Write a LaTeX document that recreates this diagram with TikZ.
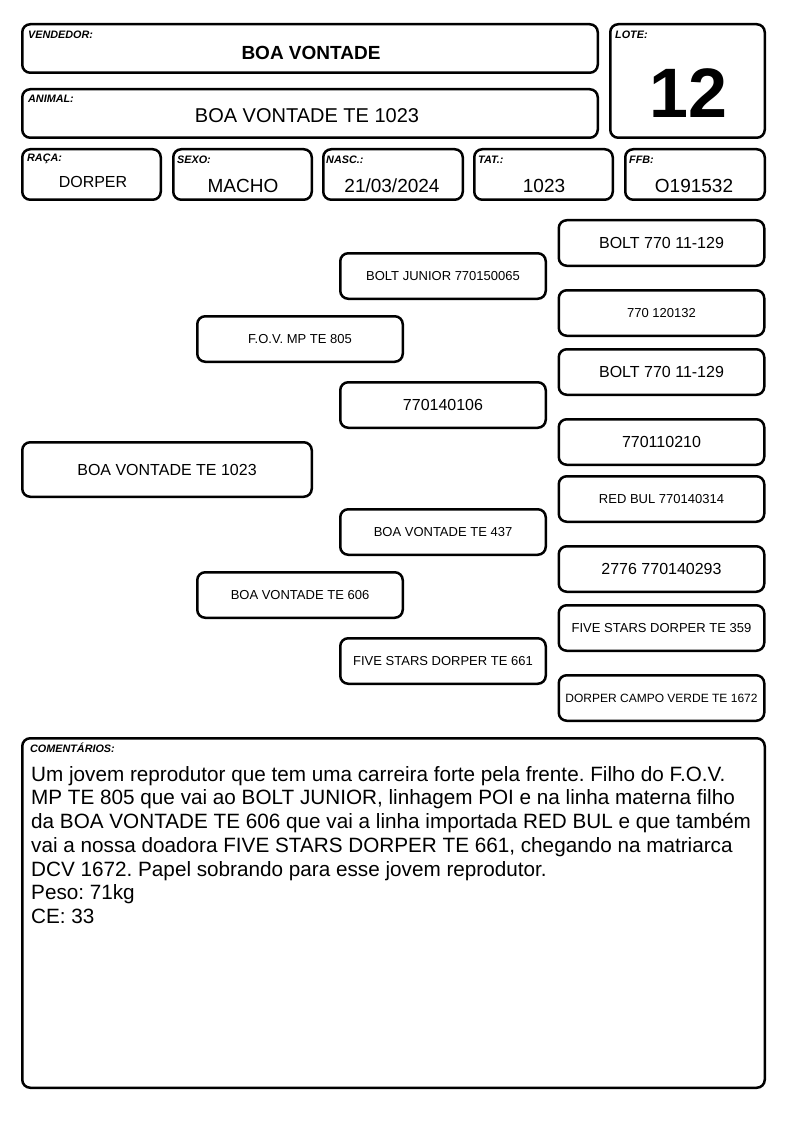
\documentclass[tikz,border=0pt]{standalone}
\usepackage{fontspec}
\setmainfont{Liberation Sans}
\usepackage{tikz}
\usetikzlibrary{calc}
\frenchspacing

\tikzset{
    card/.style={draw, line width=2.5pt, rounded corners=8pt, inner sep=0pt},
    fieldlabel/.style={anchor=west, inner sep=0pt, font=\bfseries\itshape\fontsize{10.8}{12}\selectfont},
    fieldvalue/.style={inner sep=0pt},
    gensmall/.style={card, minimum width=205.5pt, minimum height=45.5pt, font=\fontsize{13}{15}\selectfont},
    genbig/.style={card, minimum width=205.5pt, minimum height=45.5pt, font=\fontsize{16}{18}\selectfont},
}

\begin{document}
\begin{tikzpicture}[x=1pt, y=-1pt]
    \useasboundingbox (0,0) rectangle (794,1123);

    % Header
    \node[card, minimum width=575.5pt, minimum height=48.5pt] (vendbox) at (310,48.5) {};
    \node[fieldlabel] (vendlbl) at (28,35) {VENDEDOR:};
    \node[fieldvalue, font=\bfseries\fontsize{19}{21}\selectfont] (vend) at (311,53) {BOA VONTADE};

    \node[card, minimum width=575.5pt, minimum height=48.5pt] (animbox) at (310,113.5) {};
    \node[fieldlabel] (animlbl) at (28,99) {ANIMAL:};
    \node[fieldvalue, font=\fontsize{20}{22}\selectfont] (anim) at (307,116) {BOA VONTADE TE 1023};

    \node[card, minimum width=154.5pt, minimum height=113.5pt] (lotebox) at (687.5,81) {};
    \node[fieldlabel] (lotelbl) at (615,35) {LOTE:};
    \node[fieldvalue, font=\bfseries\fontsize{70}{72}\selectfont] (lote) at (688,93) {12};

    % Data row
    \node[card, minimum width=138.5pt, minimum height=50.5pt] (racabox) at (91.5,174.5) {};
    \node[fieldlabel] (racalbl) at (27,159) {RAÇA:};
    \node[fieldvalue, font=\fontsize{16}{18}\selectfont] (raca) at (93,182) {DORPER};

    \node[card, minimum width=138.5pt, minimum height=50.5pt] (sexobox) at (242.5,174.5) {};
    \node[fieldlabel] (sexolbl) at (177,160) {SEXO:};
    \node[fieldvalue, font=\fontsize{19}{21}\selectfont] (sexo) at (243,186) {MACHO};

    \node[card, minimum width=139.5pt, minimum height=50.5pt] (nascbox) at (393,174.5) {};
    \node[fieldlabel] (nasclbl) at (326,160) {NASC.:};
    \node[fieldvalue, font=\fontsize{19}{21}\selectfont] (nasc) at (392,186) {21/03/2024};

    \node[card, minimum width=138.5pt, minimum height=50.5pt] (tatbox) at (543.5,174.5) {};
    \node[fieldlabel] (tatlbl) at (478,160) {TAT.:};
    \node[fieldvalue, font=\fontsize{19}{21}\selectfont] (tat) at (544,186) {1023};

    \node[card, minimum width=139.5pt, minimum height=50.5pt] (ffbbox) at (695,174.5) {};
    \node[fieldlabel] (ffblbl) at (629,160) {FFB:};
    \node[fieldvalue, font=\fontsize{19}{21}\selectfont] (ffb) at (694,186) {O191532};

    % Pedigree - animal
    \node[card, minimum width=289.5pt, minimum height=54.5pt, font=\fontsize{16}{18}\selectfont] (self) at (167,469.5) {BOA VONTADE TE 1023};

    % Pedigree - parents
    \node[gensmall] (sire) at (300,339) {F.O.V. MP TE 805};
    \node[gensmall] (dam) at (300,595) {BOA VONTADE TE 606};

    % Pedigree - grandparents
    \node[gensmall] (ss) at (443,276) {BOLT JUNIOR 770150065};
    \node[genbig] (sd) at (443,405) {770140106};
    \node[gensmall] (ds) at (443,532) {BOA VONTADE TE 437};
    \node[gensmall] (dd) at (443,661) {FIVE STARS DORPER TE 661};

    % Pedigree - great-grandparents
    \node[genbig] (sss) at (661.5,243) {BOLT 770 11-129};
    \node[gensmall] (ssd) at (661.5,313) {770 120132};
    \node[genbig] (sds) at (661.5,372) {BOLT 770 11-129};
    \node[genbig] (sdd) at (661.5,442) {770110210};
    \node[gensmall] (dss) at (661.5,499) {RED BUL 770140314};
    \node[genbig] (dsd) at (661.5,569) {2776 770140293};
    \node[gensmall] (dds) at (661.5,628) {FIVE STARS DORPER TE 359};
    \node[gensmall, font=\fontsize{12}{14}\selectfont] (ddd) at (661.5,698) {DORPER CAMPO VERDE TE 1672};

    % Comments
    \node[card, minimum width=742.5pt, minimum height=349.5pt] (combox) at (393.5,913) {};
    \node[fieldlabel] (comlbl) at (30,748) {COMENTÁRIOS:};
    \node[anchor=north west, inner sep=0pt, align=left, font=\fontsize{20.7}{23.7}\selectfont] (comtext) at (31,766) {Um jovem reprodutor que tem uma carreira forte pela frente. Filho do F.O.V.\\
MP TE 805 que vai ao BOLT JUNIOR, linhagem POI e na linha materna filho\\
da BOA VONTADE TE 606 que vai a linha importada RED BUL e que também\\
vai a nossa doadora FIVE STARS DORPER TE 661, chegando na matriarca\\
DCV 1672. Papel sobrando para esse jovem reprodutor.\\
Peso: 71kg\\
CE: 33};

\end{tikzpicture}
\end{document}
